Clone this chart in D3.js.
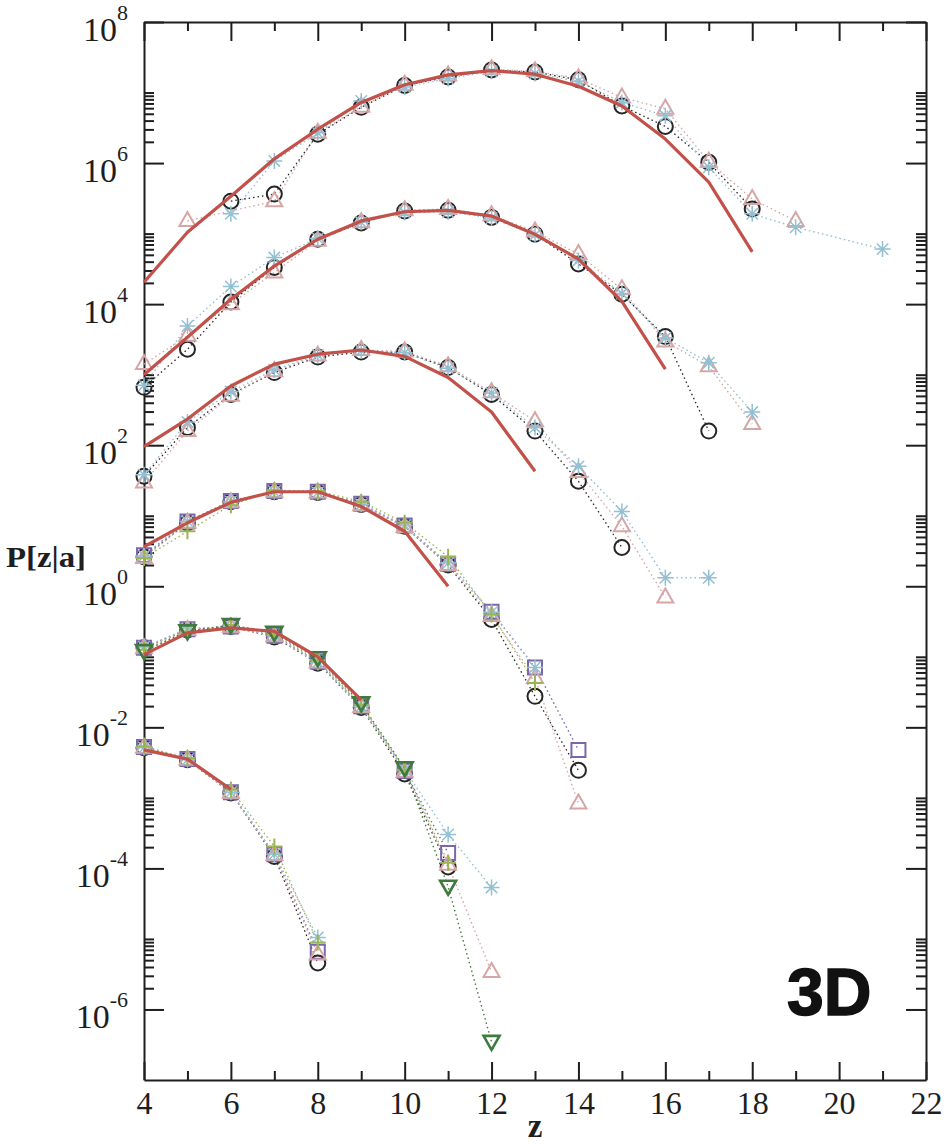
<!DOCTYPE html>
<html>
<head>
<meta charset="utf-8">
<script src="https://cdn.jsdelivr.net/npm/d3@7"></script>
<style>
  body { margin: 0; background: #fff; }
  .axis path, .axis line { stroke: #1e1e1e; stroke-width: 2; }
  .serif { font-family: "Liberation Serif", "Times New Roman", serif; fill: #1e1e1e; }
</style>
</head>
<body>
<div id="chart"></div>
<script>
// tick values
var zMajor = [4, 6, 8, 10, 12, 14, 16, 18, 20, 22];
var zMinor = [5, 7, 9, 11, 13, 15, 17, 19, 21];
var yLabelExps = [-6, -4, -2, 0, 2, 4, 6, 8];
var yMinorDecades = [-6, -4, -2, 0, 2, 4, 6];

// log10 P[z|a], each array starts at its z0 (null = no point)
// group 1 (top)
var g1Fit    = [4.31, 5.02, 5.53, 6.06, 6.48, 6.86, 7.11, 7.25, 7.31, 7.26, 7.09, 6.81, 6.34, 5.73, 4.74]; // z 4..18
var g1Circle = [5.46, 5.56, 6.41, 6.79, 7.10, 7.22, 7.32, 7.29, 7.18, 6.81, 6.52, 6.01, 5.35];       // z 6..18
var g1Tri    = [5.18, null, 5.46, 6.43, 6.80, 7.11, 7.24, 7.33, 7.30, 7.20, 6.93, 6.77, 6.02, 5.49, 5.18]; // z 5..19
var g1Star   = [5.28, 6.03, 6.43, 6.88, 7.08, 7.20, 7.30, 7.27, 7.16, 6.86, 6.67, 5.94, 5.28, 5.09, null, 4.78]; // z 6..21
// group 2
var g2Fit    = [3.00, 3.53, 4.07, 4.54, 4.92, 5.18, 5.31, 5.33, 5.25, 4.99, 4.64, 4.04, 3.08];       // z 4..16
var g2Circle = [2.82, 3.36, 4.03, 4.52, 4.92, 5.15, 5.32, 5.33, 5.23, 4.99, 4.57, 4.14, 3.54, 2.20]; // z 4..17
var g2Tri    = [3.15, 3.55, 4.00, 4.45, 4.90, 5.16, 5.33, 5.35, 5.26, 5.03, 4.71, 4.21, 3.47, 3.12, 2.30]; // z 4..18
var g2Star   = [2.85, 3.69, 4.25, 4.66, 4.93, 5.16, 5.30, 5.31, 5.22, 4.98, 4.62, 4.15, 3.52, 3.17, 2.47]; // z 4..18
// group 3
var g3Fit    = [1.98, 2.37, 2.84, 3.15, 3.29, 3.35, 3.26, 2.96, 2.47, 1.63];                         // z 4..13
var g3Circle = [1.56, 2.25, 2.72, 3.03, 3.25, 3.32, 3.32, 3.10, 2.72, 2.20, 1.49, 0.55];             // z 4..15
var g3Tri    = [1.47, 2.20, 2.70, 3.05, 3.27, 3.35, 3.33, 3.12, 2.75, 2.34, 1.62, 0.85, -0.16];      // z 4..16
var g3Star   = [1.58, 2.33, 2.76, 3.07, 3.28, 3.34, 3.31, 3.09, 2.74, 2.25, 1.70, 1.06, 0.12, 0.12]; // z 4..17
// group 4
var g4Fit    = [0.56, 0.90, 1.19, 1.34, 1.34, 1.13, 0.78, 0.00];                                     // z 4..11
var g4Circle = [0.42, 0.90, 1.20, 1.34, 1.33, 1.16, 0.85, 0.30, -0.47, -1.56, -2.61];                // z 4..14
var g4Square = [0.44, 0.92, 1.21, 1.35, 1.34, 1.17, 0.86, 0.32, -0.36, -1.15, -2.32];                // z 4..14
var g4Tri    = [0.40, 0.90, 1.19, 1.34, 1.33, 1.15, 0.84, 0.30, -0.42, -1.30, -3.08];                // z 4..14
var g4Star   = [0.43, 0.92, 1.20, 1.34, 1.33, 1.16, 0.86, 0.33, -0.37, -1.15];                       // z 4..13
var g4Plus   = [0.40, 0.78, 1.15, 1.36, 1.35, 1.20, 0.90, 0.42, -0.40, -1.37];                       // z 4..13
// group 5
var g5Fit    = [-0.97, -0.66, -0.59, -0.64, -1.00, -1.61];                                           // z 4..9
var g5Circle = [-0.87, -0.62, -0.57, -0.72, -1.09, -1.72, -2.66, -3.98];                             // z 4..11
var g5Square = [-0.87, -0.61, -0.57, -0.70, -1.07, -1.70, -2.62, -3.78];                             // z 4..11
var g5Tri    = [-0.88, -0.62, -0.58, -0.71, -1.08, -1.71, -2.63, -3.95, -5.47];                      // z 4..12
var g5Star   = [-0.86, -0.60, -0.57, -0.70, -1.08, -1.70, -2.60, -3.52, -4.27];                      // z 4..12
var g5Plus   = [-0.90, -0.64, -0.55, -0.68, -1.05, -1.68, -2.60, -3.92];                             // z 4..11
var g5Down   = [-0.92, -0.64, -0.55, -0.66, -1.02, -1.66, -2.58, -4.26, -6.46];                      // z 4..12
// group 6 (bottom)
var g6Fit    = [-2.32, -2.45, -2.88];                                                                // z 4..6
var g6Circle = [-2.29, -2.46, -2.93, -3.83, -5.34];                                                  // z 4..8
var g6Square = [-2.28, -2.45, -2.92, -3.80, -5.18];
var g6Tri    = [-2.29, -2.46, -2.93, -3.81, -5.22];
var g6Star   = [-2.29, -2.46, -2.92, -3.80, -4.98];
var g6Plus   = [-2.27, -2.44, -2.88, -3.69, -5.05];

var styles = {
  circle: "#262626",
  square: "#7a68ad",
  tri:    "#d6a6a6",
  star:   "#93c0d2",
  plus:   "#9bb556",
  down:   "#3f7a3f",
  fit:    "#c2514a"
};

// drawing order: later sets on top
var sets = [
  {kind: "circle", z0: 6, vals: g1Circle}, {kind: "tri", z0: 5, vals: g1Tri}, {kind: "star", z0: 6, vals: g1Star},
  {kind: "circle", z0: 4, vals: g2Circle}, {kind: "tri", z0: 4, vals: g2Tri}, {kind: "star", z0: 4, vals: g2Star},
  {kind: "circle", z0: 4, vals: g3Circle}, {kind: "tri", z0: 4, vals: g3Tri}, {kind: "star", z0: 4, vals: g3Star},
  {kind: "circle", z0: 4, vals: g4Circle}, {kind: "square", z0: 4, vals: g4Square}, {kind: "tri", z0: 4, vals: g4Tri},
  {kind: "star", z0: 4, vals: g4Star}, {kind: "plus", z0: 4, vals: g4Plus},
  {kind: "circle", z0: 4, vals: g5Circle}, {kind: "square", z0: 4, vals: g5Square}, {kind: "tri", z0: 4, vals: g5Tri},
  {kind: "star", z0: 4, vals: g5Star}, {kind: "plus", z0: 4, vals: g5Plus}, {kind: "down", z0: 4, vals: g5Down},
  {kind: "circle", z0: 4, vals: g6Circle}, {kind: "square", z0: 4, vals: g6Square}, {kind: "tri", z0: 4, vals: g6Tri},
  {kind: "star", z0: 4, vals: g6Star}, {kind: "plus", z0: 4, vals: g6Plus}
];
var fits = [g1Fit, g2Fit, g3Fit, g4Fit, g5Fit, g6Fit];

function toPoints(z0, vals) {
  var pts = [];
  vals.forEach(function(v, i) {
    if (v !== null) pts.push({z: z0 + i, p: Math.pow(10, v)});
  });
  return pts;
}

var markerPath = {
  square: "M-7,-7H7V7H-7Z",
  tri: "M0,-9L8,5H-8Z",
  down: "M0,8L8,-6H-8Z",
  plus: "M-8,0H8M0,-8V8",
  star: "M-8,0H8M0,-8V8M-5.7,-5.7L5.7,5.7M-5.7,5.7L5.7,-5.7"
};

var W = 947, H = 1144;
var margin = {top: 22, right: 21, bottom: 64, left: 144},
    width = W - margin.left - margin.right,
    height = H - margin.top - margin.bottom;

var svg = d3.select("#chart").append("svg")
    .attr("width", W)
    .attr("height", H);

var x = d3.scaleLinear().domain([4, 22]).range([margin.left, margin.left + width]),
    y = d3.scaleLog().domain([1e-7, 1e8]).range([margin.top + height, margin.top]);

var yMajor = yLabelExps.map(function(e) { return Math.pow(10, e); });
var yMinor = [];
yMinorDecades.forEach(function(e) {
  for (var k = 2; k <= 10; k++) yMinor.push(k * Math.pow(10, e));
});

function drawAxis(axis, tx, ty) {
  var g = svg.append("g")
      .attr("class", "axis")
      .attr("transform", "translate(" + tx + "," + ty + ")")
      .call(axis);
  return g;
}

// frame + ticks (all ticks point inward)
drawAxis(d3.axisLeft(y).tickValues(yMajor).tickSizeInner(-20).tickSizeOuter(0).tickFormat(""), margin.left, 0);
drawAxis(d3.axisLeft(y).tickValues(yMinor).tickSizeInner(-10).tickSizeOuter(0).tickFormat(""), margin.left, 0)
    .select(".domain").remove();
drawAxis(d3.axisRight(y).tickValues(yMajor).tickSizeInner(-20).tickSizeOuter(0).tickFormat(""), margin.left + width, 0);
drawAxis(d3.axisRight(y).tickValues(yMinor).tickSizeInner(-10).tickSizeOuter(0).tickFormat(""), margin.left + width, 0)
    .select(".domain").remove();
drawAxis(d3.axisTop(x).tickValues(zMajor).tickSizeInner(-19).tickSizeOuter(0).tickFormat(""), 0, margin.top);
drawAxis(d3.axisTop(x).tickValues(zMinor).tickSizeInner(-9).tickSizeOuter(0).tickFormat(""), 0, margin.top)
    .select(".domain").remove();
var xAxisG = drawAxis(d3.axisBottom(x).tickValues(zMajor).tickSizeInner(-18).tickSizeOuter(0)
    .tickPadding(11).tickFormat(d3.format("d")), 0, margin.top + height);
drawAxis(d3.axisBottom(x).tickValues(zMinor).tickSizeInner(-9).tickSizeOuter(0).tickFormat(""), 0, margin.top + height)
    .select(".domain").remove();

xAxisG.selectAll("text")
    .attr("class", "serif")
    .style("font-size", "32px");
svg.selectAll(".axis").attr("font-family", null).attr("font-size", null);

// y tick labels 10^n
var yLab = svg.append("g").attr("class", "serif");
yLabelExps.forEach(function(e) {
  var t = yLab.append("text")
      .attr("x", margin.left - 16)
      .attr("y", y(Math.pow(10, e)) + 19)
      .attr("text-anchor", "end");
  t.append("tspan").style("font-size", "34px").text("10");
  t.append("tspan").style("font-size", "22px").attr("dy", -21).text(e);
});

// dotted connectors
var line = d3.line()
    .x(function(d) { return x(d.z); })
    .y(function(d) { return y(d.p); });

var plot = svg.append("g");
sets.forEach(function(s) {
  s.points = toPoints(s.z0, s.vals);
  plot.append("path")
      .datum(s.points)
      .attr("d", line)
      .attr("fill", "none")
      .attr("stroke", styles[s.kind])
      .attr("stroke-width", s.kind === "circle" ? 1.3 : 1.4)
      .attr("stroke-dasharray", "1.5,3");
});

// markers
sets.forEach(function(s) {
  var col = styles[s.kind];
  var sel = plot.selectAll(null).data(s.points).enter();
  if (s.kind === "circle") {
    sel.append("circle")
        .attr("cx", function(d) { return x(d.z); })
        .attr("cy", function(d) { return y(d.p); })
        .attr("r", 7.5)
        .attr("fill", "none")
        .attr("stroke", col)
        .attr("stroke-width", 2);
  } else {
    sel.append("path")
        .attr("transform", function(d) { return "translate(" + x(d.z) + "," + y(d.p) + ")"; })
        .attr("d", markerPath[s.kind])
        .attr("fill", "none")
        .attr("stroke", col)
        .attr("stroke-width", s.kind === "down" ? 2.6 : (s.kind === "star" ? 1.5 : 2));
  }
});

// theory curves
fits.forEach(function(f) {
  plot.append("path")
      .datum(toPoints(4, f))
      .attr("d", line)
      .attr("fill", "none")
      .attr("stroke", styles.fit)
      .attr("stroke-width", 3.2)
      .attr("stroke-linejoin", "round");
});

// axis titles
svg.append("text")
    .attr("class", "serif")
    .attr("x", margin.left + width / 2)
    .attr("y", 1137)
    .attr("text-anchor", "middle")
    .style("font-size", "33px")
    .style("font-weight", "bold")
    .text("z");

svg.append("text")
    .attr("class", "serif")
    .attr("x", 6)
    .attr("y", 567)
    .attr("textLength", 80)
    .attr("lengthAdjust", "spacingAndGlyphs")
    .style("font-size", "30px")
    .style("font-weight", "bold")
    .text("P[z|a]");

svg.append("text")
    .attr("x", 787)
    .attr("y", 1015)
    .style("font-family", "'Liberation Sans', Arial, sans-serif")
    .style("font-size", "66px")
    .style("font-weight", "bold")
    .attr("fill", "#111")
    .attr("stroke", "#111")
    .attr("stroke-width", 1.5)
    .text("3D");
</script>
</body>
</html>
